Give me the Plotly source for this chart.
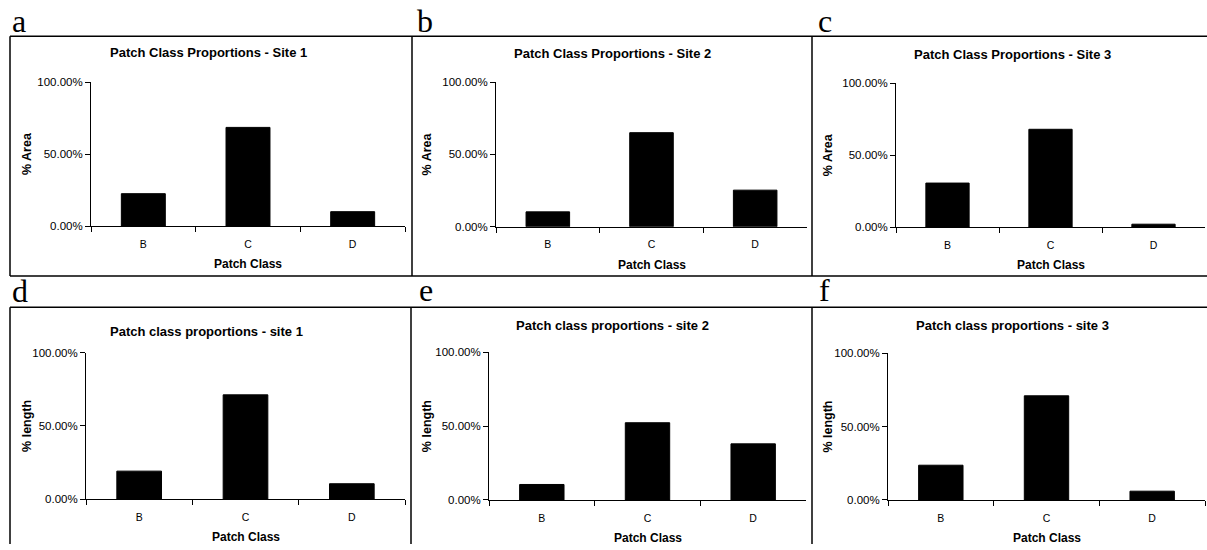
import plotly.graph_objects as go

W, H = 1207, 550

# ---------------- data ----------------
categories = ["B", "C", "D"]
area_site1 = [0.225, 0.685, 0.100]
area_site2 = [0.103, 0.650, 0.253]
area_site3 = [0.306, 0.680, 0.020]
length_site1 = [0.192, 0.712, 0.106]
length_site2 = [0.105, 0.523, 0.380]
length_site3 = [0.237, 0.710, 0.060]
series = [area_site1, area_site2, area_site3, length_site1, length_site2, length_site3]

panel_letters = ["a", "b", "c", "d", "e", "f"]
panel_titles = [
    "Patch Class Proportions - Site 1",
    "Patch Class Proportions - Site 2",
    "Patch Class Proportions - Site 3",
    "Patch class proportions - site 1",
    "Patch class proportions - site 2",
    "Patch class proportions - site 3",
]
y_titles = ["% Area", "% Area", "% Area", "% length", "% length", "% length"]
x_title = "Patch Class"
y_tickvals = [0, 0.5, 1.0]

# ---------------- layout geometry (pixels) ----------------
plot_boxes = [
    (91, 405, 77.7, 225.0),
    (496, 807, 77.7, 225.7),
    (896, 1205, 79.0, 226.0),
    (86, 405, 354.3, 504.3),
    (489, 806, 354.0, 505.0),
    (888, 1205, 355.0, 505.0),
]
title_pos = [(209, 48), (612, 49), (1012, 50), (206, 333), (612, 327), (1012, 327)]
ytitle_x = [27, 427, 828, 27, 427, 828]
letter_pos = [(10, 28), (415, 28), (816, 28), (10, 304), (417, 303), (817, 303)]

def px(x):
    return x / W

def py(y):
    return 1 - y / H

FONT = "Liberation Sans, Arial, sans-serif"
fig = go.Figure()
annotations = []

for i, vals in enumerate(series):
    n = i + 1
    xa = "x" if n == 1 else f"x{n}"
    ya = "y" if n == 1 else f"y{n}"
    fig.add_trace(go.Bar(
        x=categories, y=vals, xaxis=xa, yaxis=ya,
        width=0.42, marker=dict(color="black", line=dict(color="black", width=1)),
        showlegend=False,
    ))
    x0, x1, y0, y1 = plot_boxes[i]
    key = "" if n == 1 else str(n)
    fig.update_layout(**{
        f"xaxis{key}": dict(
            domain=[px(x0), px(x1)], anchor=ya, type="category",
            categoryorder="array", categoryarray=categories,
            range=[-0.5, 2.5], showline=True, linecolor="black", linewidth=1,
            ticks="outside", tickson="boundaries", ticklen=5, tickcolor="black",
            ticklabelstandoff=8,
            showgrid=False, zeroline=False,
            tickfont=dict(family=FONT, size=10.5, color="black"),
        ),
        f"yaxis{key}": dict(
            domain=[py(y1), py(y0)], anchor=xa, range=[0, 1],
            tickvals=y_tickvals, tickformat=".2%",
            showline=True, linecolor="black", linewidth=1,
            ticks="outside", ticklen=5, tickcolor="black",
            showgrid=False, zeroline=False,
            tickfont=dict(family=FONT, size=11.5, color="black"),
        ),
    })
    # panel title
    tx, ty = title_pos[i]
    annotations.append(dict(text=f"<b>{panel_titles[i]}</b>", x=px(tx), y=py(ty),
                            xref="paper", yref="paper", showarrow=False,
                            xanchor="center", yanchor="middle",
                            font=dict(family=FONT, size=13, color="black")))
    # x axis title
    annotations.append(dict(text=f"<b>{x_title}</b>", x=px((x0 + x1) / 2), y=py(y1 + 39),
                            xref="paper", yref="paper", showarrow=False,
                            xanchor="center", yanchor="middle",
                            font=dict(family=FONT, size=12, color="black")))
    # y axis title
    annotations.append(dict(text=f"<b>{y_titles[i]}</b>", x=px(ytitle_x[i]), y=py((y0 + y1) / 2),
                            xref="paper", yref="paper", showarrow=False, textangle=-90,
                            xanchor="center", yanchor="middle",
                            font=dict(family=FONT, size=12.5, color="black")))
    # panel letter
    lx, ly = letter_pos[i]
    annotations.append(dict(text=panel_letters[i], x=px(lx), y=py(ly + 8),
                            xref="paper", yref="paper", showarrow=False,
                            xanchor="left", yanchor="bottom",
                            font=dict(family="Liberation Serif, Times New Roman, serif", size=32, color="black")))

# panel frames
shapes = []
def hline(x0, x1, y, w=1.5):
    shapes.append(dict(type="line", xref="paper", yref="paper", x0=px(x0), x1=px(x1),
                       y0=py(y), y1=py(y), line=dict(color="black", width=w)))
def vline(x, y0, y1, w=1.5):
    shapes.append(dict(type="line", xref="paper", yref="paper", x0=px(x), x1=px(x),
                       y0=py(y0), y1=py(y1), line=dict(color="black", width=w)))

hline(10, 1207, 31)
hline(10, 1207, 276)
for xv in (10, 412, 812):
    vline(xv, 31, 276)
hline(10, 1207, 308)
for xv in (10, 411, 812):
    vline(xv, 308, 550)

fig.update_layout(
    width=W, height=H,
    margin=dict(l=0, r=0, t=0, b=0),
    paper_bgcolor="white", plot_bgcolor="white",
    annotations=annotations, shapes=shapes,
    bargap=0.58,
)

fig.write_html("out.html", config={"displayModeBar": False},
               post_script="document.body.style.margin='0';")
